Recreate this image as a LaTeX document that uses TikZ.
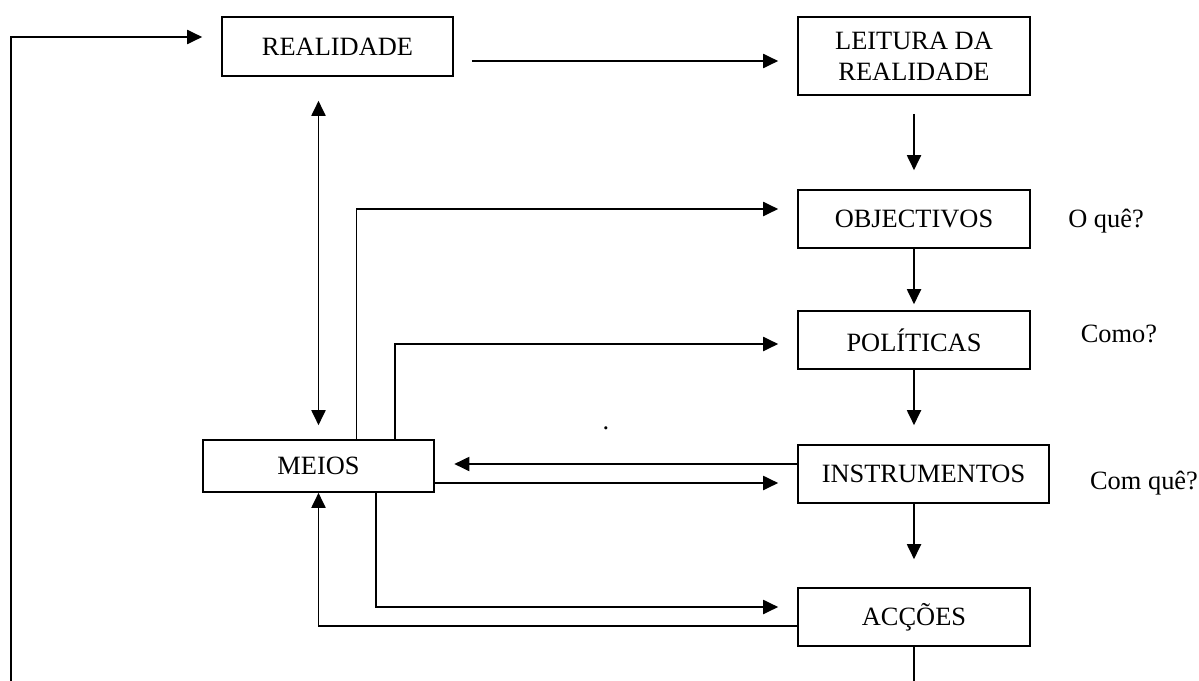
\documentclass[tikz,border=0pt]{standalone}
\usepackage{fontspec}
\setmainfont{Liberation Serif}
\usetikzlibrary{arrows.meta,calc}
\begin{document}
\begin{tikzpicture}[x=1pt,y=-1pt,
  boxnode/.style={draw,line width=1.6pt,inner sep=0pt,align=center,
    font=\fontsize{26.4}{31}\selectfont},
  lbl/.style={inner sep=0pt,anchor=base,font=\fontsize{26.4}{31}\selectfont},
  conn/.style={line width=1.9pt},
  arr/.style={conn,-{Triangle[length=15pt,width=14pt]}},
  arrb/.style={conn,{Triangle[length=15pt,width=14pt]}-{Triangle[length=15pt,width=14pt]}}]
\useasboundingbox (0,0) rectangle (1199,680);
\clip (0,0) rectangle (1199,680);
% boxes
\node[boxnode,minimum width=231pt,minimum height=59pt] (real) at (337.5,46.5) {REALIDADE};
\node[boxnode,minimum width=232pt,minimum height=78pt] (leit) at (914,56) {LEITURA DA\\REALIDADE};
\node[boxnode,minimum width=232pt,minimum height=58pt] (obj) at (914,219) {OBJECTIVOS};
\node[boxnode,minimum width=232pt,minimum height=58pt] (pol) at (914,340) {POLÍTICAS};
\node[boxnode,minimum width=251pt,minimum height=58pt] (ins) at (923.5,474) {INSTRUMENTOS};
\node[boxnode,minimum width=232pt,minimum height=58pt] (acc) at (914,617) {ACÇÕES};
\node[boxnode,minimum width=231pt,minimum height=52pt] (meios) at (318.5,466) {MEIOS};
% side labels
\node[lbl] (q1) at (1106,227) {O quê?};
\node[lbl] (q2) at (1119,342) {Como?};
\node[lbl] (q3) at (1144,489) {Com quê?};
\node[lbl] (dot) at (606,429) {.};
% main chain
\draw[arr] ([xshift=18pt,yshift=-14.5pt]real.east) -- ([xshift=-19pt,yshift=-5pt]leit.west);
\draw[arr,shorten <=18pt,shorten >=19pt] (leit.south) -- (obj.north);
\draw[arr,shorten >=6pt] (obj.south) -- (pol.north);
\draw[arr,shorten >=19pt] (pol.south) -- (pol.south |- ins.north);
\draw[arr,shorten >=28pt] (acc.north |- ins.south) -- (acc.north);
% realidade <-> meios
\draw[arrb,shorten <=24pt,shorten >=14pt] (meios.north |- real.south) -- (meios.north);
% meios to objectivos / politicas
\draw[arr] ([xshift=38pt]meios.north) |- ([xshift=-19pt,yshift=10pt]obj.west);
\draw[arr] ([xshift=76.5pt]meios.north) |- ([xshift=-19pt,yshift=-4pt]pol.west);
% meios <-> instrumentos
\draw[arr,shorten >=19.5pt] ([yshift=10pt]ins.west) -- ([yshift=10pt]ins.west -| meios.east);
\draw[arr,shorten >=19pt] ([yshift=-17pt]meios.east) -- ([yshift=-17pt]meios.east -| ins.west);
% meios <-> accoes
\draw[arr] ([xshift=57.5pt]meios.south) |- ([xshift=-19pt,yshift=10pt]acc.west);
\draw[arr] ([yshift=-9pt]acc.west) -| (meios.south);
% feedback loop
\coordinate (bl) at (11,700);
\draw[arr] (acc.south) |- (bl) |- ([xshift=-19pt,yshift=9.5pt]real.west);
\end{tikzpicture}
\end{document}
